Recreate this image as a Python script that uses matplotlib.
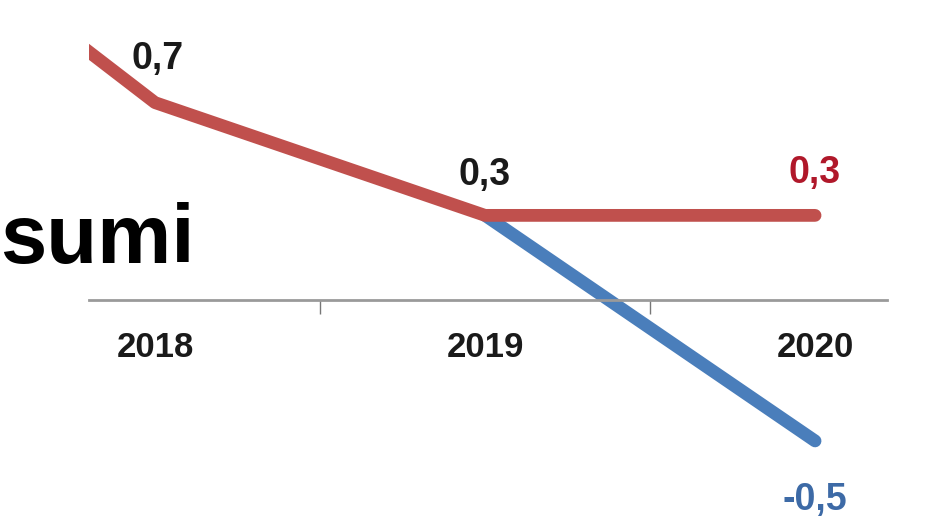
import matplotlib
matplotlib.use("Agg")
import matplotlib.pyplot as plt
import numpy as np

years = ["2017", "2018", "2019", "2020"]
red_values = [1.6, 0.7, 0.3, 0.3]
blue_values = [np.nan, np.nan, 0.3, -0.5]
red_color = "#C0504D"
blue_color = "#4A7EBB"

plt.rcParams['font.family'] = ['Liberation Sans', 'DejaVu Sans']

fig = plt.figure(figsize=(9.42, 5.19), dpi=100)
ax = fig.add_axes([89 / 942, 0, (887 - 89) / 942, 1])

x = np.arange(len(years))
ax.plot(x, blue_values, color=blue_color, lw=9.2, solid_capstyle='round',
        solid_joinstyle='round', zorder=2)
ax.plot(x, red_values, color=red_color, lw=9.2, solid_capstyle='round',
        solid_joinstyle='round', zorder=3)

ax.set_xlim(0.8, 3.218)
ax.set_ylim(-0.777, 1.064)


def fmt(v):
    return f"{v:.1f}".replace('.', ',')


# data labels
lab = dict(ha='center', fontsize=27, fontweight='bold', textcoords='offset points')
ax.annotate(fmt(red_values[1]), (1, red_values[1]), xytext=(2, 24), va='baseline',
            color='#1a1a1a', **lab)
ax.annotate(fmt(red_values[2]), (2, red_values[2]), xytext=(0, 22), va='baseline',
            color='#1a1a1a', **lab)
ax.annotate(fmt(red_values[3]), (3, red_values[3]), xytext=(0, 23), va='baseline',
            color='#B0182A', **lab)
ax.annotate(fmt(blue_values[3]), (3, blue_values[3]), xytext=(0, -50), va='baseline',
            color='#3D6AA6', **lab)

# axis at zero
for s in ['top', 'right', 'left']:
    ax.spines[s].set_visible(False)
ax.spines['bottom'].set_position(('data', 0))
ax.spines['bottom'].set_color('#9a9a9a')
ax.spines['bottom'].set_linewidth(2)
ax.set_yticks([])
ax.set_xticks(x[1:])
ax.set_xticklabels(years[1:], fontsize=25, fontweight='bold', color='#1a1a1a')
ax.tick_params(axis='x', which='major', length=0, pad=22)
ax.set_xticks([1.5, 2.5], minor=True)
ax.tick_params(axis='x', which='minor', length=10, width=1, color='#777777', direction='out')
ax.patch.set_alpha(0)

fig.text(0.0, 1 - 263 / 519, "sumi", fontsize=60, fontweight='bold', color='black',
         ha='left', va='baseline')

fig.savefig("out.png", dpi=100)
